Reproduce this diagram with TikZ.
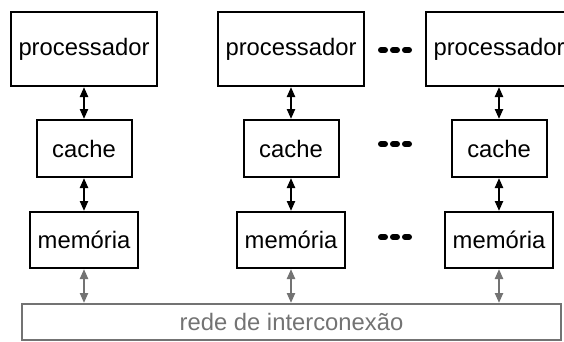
\documentclass[tikz,border=0pt]{standalone}
\usepackage{fontspec}
\setmainfont{Liberation Sans}
\usepackage{tikz}
\usetikzlibrary{arrows.meta, positioning, calc}
\definecolor{netgray}{HTML}{737373}
\tikzset{
    unitbox/.style={rectangle, draw, line width=2pt, inner sep=2pt, font=\fontsize{23.8}{28}\selectfont},
    procnode/.style={unitbox, minimum width=146pt, minimum height=74pt},
    cachenode/.style={unitbox, minimum width=95pt, minimum height=57pt},
    memnode/.style={unitbox, minimum width=108pt, minimum height=56pt},
    netnode/.style={rectangle, draw=netgray, line width=2pt, text=netgray, minimum width=539pt, minimum height=36pt, font=\fontsize{23.8}{28}\selectfont},
    dots/.style={line width=6pt, line cap=round, dash pattern=on 4pt off 8pt},
    blacklink/.style={<->, line width=2.2pt},
    graylink/.style={<->, draw=netgray, line width=2.2pt}
}

\begin{document}
\begin{tikzpicture}[x=1pt, y=-1pt, >={Triangle[length=10pt, width=8pt]}]
% Distributed-memory machine: nodes joined by an interconnection network.
  \useasboundingbox (0,0) rectangle (564,341);
  \node[procnode] (p1) at (84, 49) {processador};
  \node[procnode] (p2) at (291, 49) {processador};
  \node[procnode] (p3) at (499, 49) {processador};
  \node[cachenode] (c1) at (84, 148.5) {cache};
  \node[cachenode] (c2) at (291, 148.5) {cache};
  \node[cachenode] (c3) at (499, 148.5) {cache};
  \node[memnode] (m1) at (84, 240) {memória};
  \node[memnode] (m2) at (291, 240) {memória};
  \node[memnode] (m3) at (499, 240) {memória};
  \node[netnode] (net) at (291.5, 322) {rede de interconexão};
  \foreach \i in {1,2,3} {
    \draw[blacklink] (p\i) -- (c\i);
    \draw[blacklink] (c\i) -- (m\i);
    \draw[graylink] (m\i) -- (m\i |- net.north);
  }
  \foreach \y in {50, 144, 237}
    \draw[dots] (381, \y) -- (409, \y);
\end{tikzpicture}
\end{document}
